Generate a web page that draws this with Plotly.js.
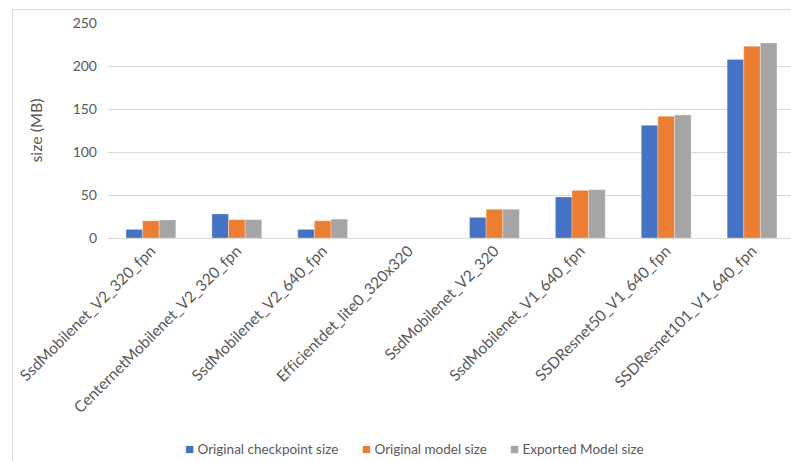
<!DOCTYPE html>
<html>
<head>
<meta charset="utf-8">
<script src="https://cdn.plot.ly/plotly-3.0.1.min.js"></script>
<style>
  html, body { margin: 0; padding: 0; overflow: hidden; background: #fff; }
  #wrap { position: relative; width: 791px; height: 461px; overflow: hidden; }
  #chart { position: absolute; left: 0; top: 0; }
  #chart text { font-variant-ligatures: none; font-feature-settings: "liga" 0; }
  #frame { position: absolute; left: 12px; top: 9px; width: 800px; height: 470px;
           border: 1px solid #d9d9d9; pointer-events: none; box-sizing: border-box; }
</style>
</head>
<body>
<div id="wrap">
  <div id="chart"></div>
  <div id="frame"></div>
</div>
<script>
// Model names on the category axis
const models = [
  "SsdMobilenet_V2_320_fpn",
  "CenternetMobilenet_V2_320_fpn",
  "SsdMobilenet_V2_640_fpn",
  "Efficientdet_lite0_320x320",
  "SsdMobilenet_V2_320",
  "SsdMobilenet_V1_640_fpn",
  "SSDResnet50_V1_640_fpn",
  "SSDResnet101_V1_640_fpn"
];

// Sizes in MB
const checkpointSize = [10, 28, 10, null, 24, 47.7, 131, 207.5];
const originalModelSize = [20, 21.3, 20, null, 33.4, 55.4, 141.5, 223];
const exportedModelSize = [21, 21.3, 22, null, 33.4, 56.2, 143, 226.7];

const seriesNames = ["Original checkpoint size", "Original model size", "Exported Model size"];
const seriesColors = ["#4472C4", "#ED7D31", "#A5A5A5"];

const yTicks = [0, 50, 100, 150, 200, 250];

const font = "Lato, 'Open Sans', sans-serif";

function series(i, values) {
  return {
    type: "bar",
    name: seriesNames[i],
    x: models,
    y: values,
    marker: { color: seriesColors[i], line: { color: "rgba(255,255,255,0.6)", width: 0.5 } },
    showlegend: false
  };
}

const data = [
  series(0, checkpointSize),
  series(1, originalModelSize),
  series(2, exportedModelSize)
];

// Legend row along the bottom: a small square key followed by the series name
const legendX = [183, 360, 508];
const legendAnnotations = seriesNames.map((name, i) => ({
  xref: "paper", yref: "paper",
  x: (legendX[i] - 108) / (795 - 108),
  y: -(448 - 238) / 215,
  xanchor: "left", yanchor: "middle",
  showarrow: false,
  text: "<span style='color:" + seriesColors[i] + ";font-size:15px'>■</span> " + name,
  font: { family: font, size: 13.5, color: "#595959" }
}));

const layout = {
  width: 795,
  height: 461,
  margin: { l: 108, r: 0, t: 23, b: 223 },
  paper_bgcolor: "#ffffff",
  plot_bgcolor: "#ffffff",
  barmode: "group",
  bargap: 0.42,
  bargroupgap: 0,
  font: { family: font, color: "#595959", size: 13 },
  xaxis: {
    tickangle: -45,
    tickfont: { family: font, size: 15.5, color: "#595959" },
    showgrid: false,
    showline: false,
    ticks: "",
    automargin: false
  },
  yaxis: {
    range: [0, 250],
    tickvals: yTicks,
    ticktext: yTicks.map(String),
    tickfont: { family: font, size: 14, color: "#595959" },
    gridcolor: "#d9d9d9",
    gridwidth: 1,
    zeroline: true,
    zerolinecolor: "#d9d9d9",
    zerolinewidth: 1,
    ticks: "",
    ticklabelstandoff: 10,
    title: { text: "size (MB)", font: { family: font, size: 16, color: "#595959" }, standoff: 26 },
    automargin: false
  },
  showlegend: false,
  annotations: legendAnnotations
};

Plotly.newPlot("chart", data, layout, { displayModeBar: false, staticPlot: true });
</script>
</body>
</html>
